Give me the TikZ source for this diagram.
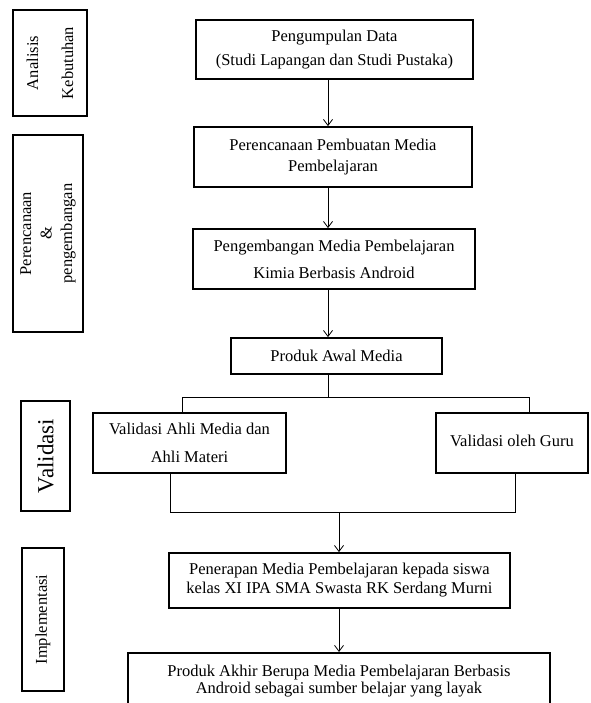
\documentclass[tikz,border=0pt]{standalone}
\usepackage{fontspec}
\setmainfont{Liberation Serif}
\usetikzlibrary{arrows.meta}
\newcommand{\fs}[2]{\fontsize{#1}{#2}\selectfont}
\begin{document}
\begin{tikzpicture}[x=1pt,y=-1pt,
  bx/.style={draw, line width=1.8pt, align=center, inner sep=0pt},
  conn/.style={line width=0.8pt},
  arr/.style={line width=0.8pt, -{Straight Barb[length=6pt,width=9pt,line width=0.8pt]}},
  side/.style={draw, line width=1.8pt, align=center, inner sep=0pt, rotate=90}]
\useasboundingbox[fill=white] (0,0) rectangle (590,703);
% main column
\node[bx, minimum width=277pt, minimum height=59pt, font=\fs{16.5}{24}] (a1) at (334.5,49.5)
  {Pengumpulan Data\\(Studi Lapangan dan Studi Pustaka)};
\node[bx, minimum width=278pt, minimum height=60pt, font=\fs{16.5}{21}] (a2) at (333,157)
  {Perencanaan Pembuatan Media\\Pembelajaran};
\node[bx, minimum width=282pt, minimum height=60pt, font=\fs{16.5}{27}] (a3) at (334,259)
  {Pengembangan Media Pembelajaran\\Kimia Berbasis Android};
\node[bx, minimum width=211pt, minimum height=36pt, font=\fs{16.5}{20}] (a4) at (336.5,356)
  {Produk Awal Media};
\node[bx, minimum width=193pt, minimum height=60pt, font=\fs{16.5}{28}] (v1) at (189.5,443)
  {Validasi Ahli Media dan\\Ahli Materi};
\node[bx, minimum width=152pt, minimum height=60pt, font=\fs{16.5}{20}] (v2) at (512,443)
  {\raisebox{5pt}{Validasi oleh Guru}};
\node[bx, minimum width=341pt, minimum height=55pt, font=\fs{16.5}{19}] (p1) at (339.5,580.5)
  {Penerapan Media Pembelajaran kepada siswa\\kelas XI IPA SMA Swasta RK Serdang Murni};
\node[bx, minimum width=422pt, minimum height=90pt, anchor=north] (p2) at (339,652) {};
\node[align=center, inner sep=0pt, font=\fs{16.5}{17}, anchor=north] (p2t) at (339,665)
  {Produk Akhir Berupa Media Pembelajaran Berbasis\\Android sebagai sumber belajar yang layak};
% side labels
\node[side, minimum width=106pt, minimum height=74pt, font=\fs{16.5}{35}] (l1) at (50,63)
  {Analisis\\Kebutuhan};
\node[side, minimum width=197pt, minimum height=70pt, font=\fs{16.5}{20.5}] (l2) at (48,233.5)
  {Perencanaan\\\&\\pengembangan};
\node[side, minimum width=110pt, minimum height=49pt, font=\fs{23}{26}] (l3) at (45.5,456)
  {Validasi};
\node[side, minimum width=143pt, minimum height=42pt, font=\fs{16.5}{20}] (l4) at (43,619.5)
  {Implementasi};
% connector coordinates
\coordinate (cx) at (328,0);
\coordinate (bl) at (182,397);
\coordinate (br) at (529,397);
\coordinate (ml) at (170,512);
\coordinate (mr) at (515,512);
\coordinate (mx) at (339,512);
% connectors
\draw[arr] (a1.south -| cx) -- (a2.north -| cx);
\draw[arr] (a2.south -| cx) -- (a3.north -| cx);
\draw[arr] (a3.south -| cx) -- (a4.north -| cx);
\draw[conn] (a4.south -| cx) -- (bl -| cx);
\draw[conn] (v1.north -| bl) -- (bl) -- (br) -- (v2.north -| br);
\draw[conn] (v1.south -| ml) -- (ml) -- (mr) -- (v2.south -| mr);
\draw[arr] (mx) -- (p1.north -| mx);
\draw[arr] (p1.south -| mx) -- (p2.north -| mx);
\end{tikzpicture}
\end{document}
